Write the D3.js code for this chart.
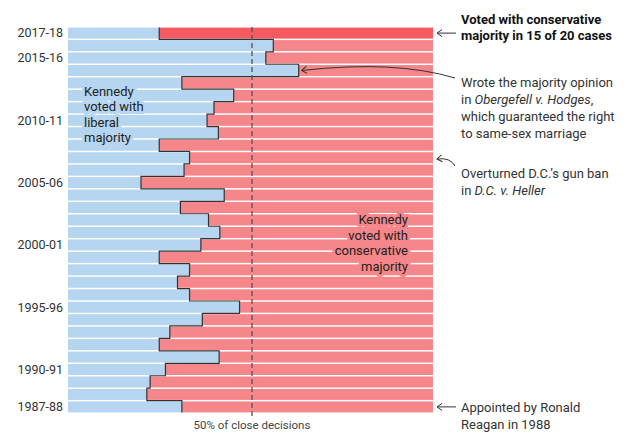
<!DOCTYPE html>
<html>
<head>
<meta charset="utf-8">
<script src="https://cdn.jsdelivr.net/npm/d3@7"></script>
<style>
  body { margin: 0; background: #fff; }
  svg text { font-family: Roboto, 'Noto Sans', sans-serif; }
</style>
</head>
<body>
<div id="chart"></div>
<script>
const width = 640;
const height = 443;

// terms, oldest first
const terms = [
  '1987-88', '1988-89', '1989-90', '1990-91', '1991-92', '1992-93', '1993-94',
  '1994-95', '1995-96', '1996-97', '1997-98', '1998-99', '1999-00', '2000-01',
  '2001-02', '2002-03', '2003-04', '2004-05', '2005-06', '2006-07', '2007-08',
  '2008-09', '2009-10', '2010-11', '2011-12', '2012-13', '2013-14', '2014-15',
  '2015-16', '2016-17', '2017-18',
];

// share of close decisions where Kennedy voted with the liberal majority
const liberalShare = [
  0.312, 0.216, 0.225, 0.267, 0.414, 0.25, 0.279,
  0.368, 0.47, 0.333, 0.30, 0.333, 0.25, 0.364,
  0.416, 0.385, 0.308, 0.428, 0.20, 0.318, 0.333,
  0.25, 0.412, 0.381, 0.40, 0.454, 0.312, 0.632,
  0.542, 0.5625, 0.25,
];

const labeledTerms = ['2017-18', '2015-16', '2010-11', '2005-06', '2000-01', '1995-96', '1990-91', '1987-88'];

const data = terms.map((t, i) => ({ term: t, lib: liberalShare[i] })).reverse();

const blue = '#b5d5f1';
const red = '#f5868a';
const redHi = '#f55a60';
const ink = '#333';

const svg = d3
  .select('#chart')
  .append('svg')
  .attr('width', width)
  .attr('height', height);

const defs = svg.append('defs');
defs
  .append('marker')
  .attr('id', 'arrow')
  .attr('viewBox', '-7 -5 8 10')
  .attr('refX', 0)
  .attr('refY', 0)
  .attr('markerWidth', 8)
  .attr('markerHeight', 10)
  .attr('markerUnits', 'userSpaceOnUse')
  .attr('orient', 'auto')
  .append('path')
  .attr('d', 'M-5,-3.5L0,0L-5,3.5')
  .attr('fill', 'none')
  .attr('stroke', ink)
  .attr('stroke-width', 1);

const x = d3.scaleLinear().domain([0, 1]).range([68, 433]);
const y = d3
  .scaleBand()
  .domain(data.map((d) => d.term))
  .range([27, 413])
  .paddingInner(0.12)
  .paddingOuter(0.05);

const pad = (y.step() - y.bandwidth()) / 2;

const rows = svg.append('g');

rows
  .selectAll('rect.lib')
  .data(data)
  .enter()
  .append('rect')
  .attr('class', 'lib')
  .attr('x', x(0))
  .attr('y', (d) => y(d.term))
  .attr('width', (d) => x(d.lib) - x(0))
  .attr('height', y.bandwidth())
  .attr('fill', blue);

rows
  .selectAll('rect.con')
  .data(data)
  .enter()
  .append('rect')
  .attr('class', 'con')
  .attr('x', (d) => x(d.lib))
  .attr('y', (d) => y(d.term))
  .attr('width', (d) => x(1) - x(d.lib))
  .attr('height', y.bandwidth())
  .attr('fill', (d, i) => (i === 0 ? redHi : red));

// step outline along the split
const pts = [];
data.forEach((d, i) => {
  const top = i === 0 ? y(d.term) : y(d.term) - pad;
  const bot = i === data.length - 1 ? y(d.term) + y.bandwidth() : y(d.term) + y.bandwidth() + pad;
  pts.push([x(d.lib), top]);
  pts.push([x(d.lib), bot]);
});

svg
  .append('path')
  .datum(pts)
  .attr('d', d3.line())
  .attr('fill', 'none')
  .attr('stroke', ink)
  .attr('stroke-width', 1.2);

// 50% line
svg
  .append('line')
  .attr('x1', x(0.5) + 1.5)
  .attr('x2', x(0.5) + 1.5)
  .attr('y1', 27)
  .attr('y2', 419)
  .attr('stroke', '#555')
  .attr('stroke-width', 1.3)
  .attr('stroke-dasharray', '5,3');

svg
  .append('text')
  .attr('x', x(0.5) + 1.5)
  .attr('y', 429)
  .attr('text-anchor', 'middle')
  .attr('font-size', 11.5)
  .attr('fill', '#444')
  .text('50% of close decisions');

// term labels
svg
  .selectAll('text.term')
  .data(data.filter((d) => labeledTerms.includes(d.term)))
  .enter()
  .append('text')
  .attr('class', 'term')
  .attr('x', 63)
  .attr('y', (d) => y(d.term) + y.bandwidth() / 2)
  .attr('dy', '0.35em')
  .attr('text-anchor', 'end')
  .attr('font-size', 12.5)
  .attr('fill', ink)
  .text((d) => d.term);

// in-chart labels
function block(lines, x0, y0, lh, anchor, halo) {
  const t = svg
    .append('text')
    .attr('text-anchor', anchor)
    .attr('font-size', 13)
    .attr('fill', '#222')
    .attr('stroke', halo)
    .attr('stroke-width', halo ? 6 : 0)
    .attr('paint-order', 'stroke')
    .attr('stroke-linejoin', 'round');
  lines.forEach((l, i) => {
    t.append('tspan').attr('x', x0).attr('y', y0 + i * lh).text(l);
  });
  return t;
}

block(['Kennedy', 'voted with', 'liberal', 'majority'], 84, 95.5, 15.5, 'start', blue);
block(['Kennedy', 'voted with', 'conservative', 'majority'], 408, 224, 15.6, 'end', red);

// annotations
const ax = 461;

const title = svg.append('text').attr('font-size', 13).attr('font-weight', 'bold').attr('fill', '#111');
title.append('tspan').attr('x', ax).attr('y', 23.5).text('Voted with conservative');
title.append('tspan').attr('x', ax).attr('y', 40).text('majority in 15 of 20 cases');

const ob = svg.append('text').attr('font-size', 13).attr('fill', ink);
ob.append('tspan').attr('x', ax).attr('y', 87).text('Wrote the majority opinion');
const ob2 = ob.append('tspan').attr('x', ax).attr('y', 104);
ob2.append('tspan').text('in ');
ob2.append('tspan').attr('font-style', 'italic').text('Obergefell v. Hodges');
ob2.append('tspan').text(',');
ob.append('tspan').attr('x', ax).attr('y', 121).text('which guaranteed the right');
ob.append('tspan').attr('x', ax).attr('y', 138).text('to same-sex marriage');

const he = svg.append('text').attr('font-size', 13).attr('fill', ink);
he.append('tspan').attr('x', ax).attr('y', 178).text('Overturned D.C.\u2019s gun ban');
const he2 = he.append('tspan').attr('x', ax).attr('y', 195);
he2.append('tspan').text('in ');
he2.append('tspan').attr('font-style', 'italic').text('D.C. v. Heller');

const ap = svg.append('text').attr('font-size', 13).attr('fill', ink);
ap.append('tspan').attr('x', ax).attr('y', 412).text('Appointed by Ronald');
ap.append('tspan').attr('x', ax).attr('y', 428.5).text('Reagan in 1988');

function arrow(d) {
  svg
    .append('path')
    .attr('d', d)
    .attr('fill', 'none')
    .attr('stroke', ink)
    .attr('stroke-width', 1)
    .attr('marker-end', 'url(#arrow)');
}

const rowMid = (t) => y(t) + y.bandwidth() / 2;

arrow(`M456,${rowMid('2017-18')}L437,${rowMid('2017-18')}`);
const obY = rowMid('2014-15');
arrow(`M455,78Q395,60 ${x(0.632) + 3},${obY}`);
arrow('M455,166Q450,157 437,159');
arrow(`M456,${rowMid('1987-88')}L437,${rowMid('1987-88')}`);
</script>
</body>
</html>
